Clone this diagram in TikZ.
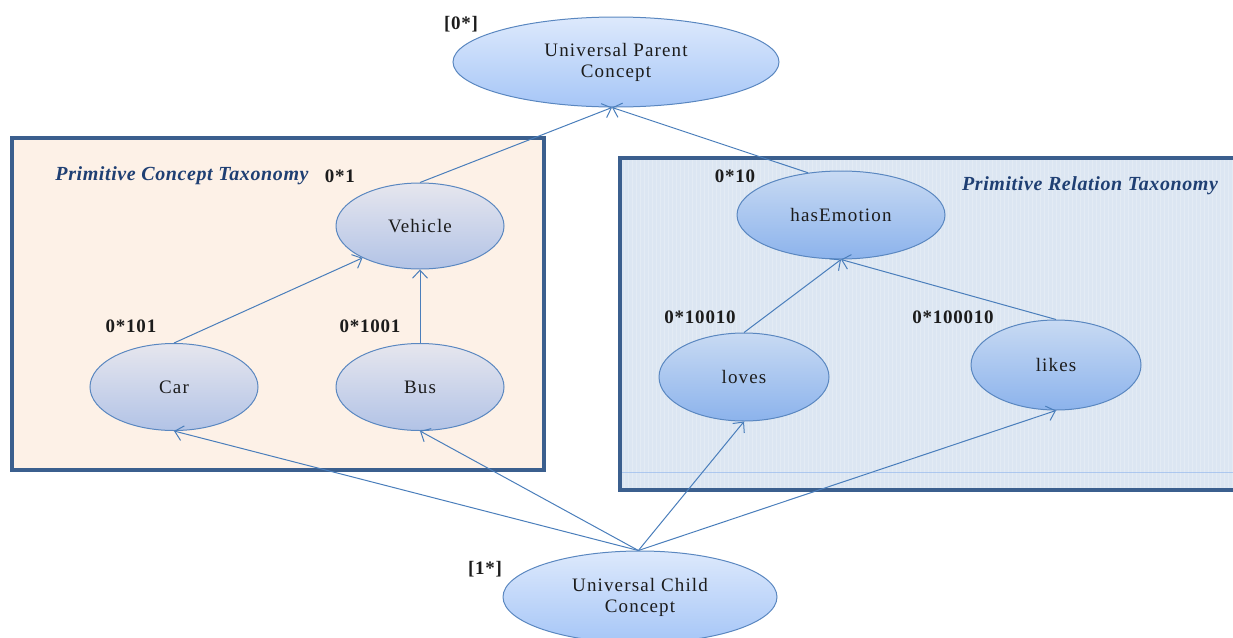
\documentclass[tikz,border=0pt]{standalone}
\usepackage{fontspec}
\setmainfont{Liberation Serif}
\usetikzlibrary{shapes.geometric,arrows.meta}
\definecolor{linkblue}{HTML}{4A7EBB}
\definecolor{rimblue}{HTML}{5A87C0}
\definecolor{frameblue}{HTML}{3B5F8E}
\definecolor{titleblue}{HTML}{1F3F73}
\definecolor{codeink}{HTML}{1C1C1C}
\definecolor{peach}{HTML}{FDF1E7}
\definecolor{paleblue}{HTML}{DCE6F2}
\definecolor{lilactop}{HTML}{E6E6EE}
\definecolor{lilacbot}{HTML}{B2C3E6}
\definecolor{skytop}{HTML}{C8DAF3}
\definecolor{skybot}{HTML}{8CB3EC}
\definecolor{roottop}{HTML}{DDE9FC}
\definecolor{rootbot}{HTML}{A6C6F7}
\begin{document}
\begin{tikzpicture}[x=1pt,y=-1pt,
  concept/.style={ellipse, draw=rimblue, line width=1pt, inner sep=0pt, align=center,
    text=codeink, font=\addfontfeature{LetterSpace=6}\fontsize{19}{21}\selectfont},
  lilac/.style={concept, top color=lilactop, bottom color=lilacbot},
  skyblue/.style={concept, top color=skytop, bottom color=skybot},
  rootblue/.style={concept, top color=roottop, bottom color=rootbot},
  code/.style={font=\bfseries\addfontfeature{LetterSpace=4}\fontsize{19}{21}\selectfont, text=codeink},
  boxtitle/.style={font=\bfseries\itshape\addfontfeature{LetterSpace=3}\fontsize{20}{22}\selectfont, text=titleblue},
  link/.style={draw=linkblue, line width=1pt, -{Straight Barb[length=8pt,width=15pt]}},
  frame/.style={draw=frameblue, line width=4pt}]
\useasboundingbox (0,0) rectangle (1233,637);

% concept taxonomy panel
\fill[peach] (12,138) rectangle (544,470);
\draw[frame] (12,138) rectangle (544,470);

% relation taxonomy panel, with its fine crosshatch
\fill[paleblue] (620,158) rectangle (1250,490);
\begin{scope}
  \clip (620,158) rectangle (1250,490);
  \draw[white, opacity=0.22, line width=0.5pt, step=4] (620,158) grid (1250,490);
\end{scope}
\draw[skybot, opacity=0.6, line width=0.6pt] (620,472) -- (1250,472);
\draw[frame] (620,158) rectangle (1250,490);

% nodes
\node[rootblue, minimum width=326, minimum height=90] (upc) at (616,62) {Universal Parent\\Concept};
\node[code] (upccode) at (461,24) {[0*]};

\node[boxtitle] (pct) at (182,176) {Primitive Concept Taxonomy};
\node[code] (vcode) at (340,176) {0*1};
\node[lilac, minimum width=168, minimum height=86] (veh) at (420,226) {Vehicle};
\node[code] (ccode) at (131,326) {0*101};
\node[code] (bcode) at (370,326) {0*1001};
\node[lilac, minimum width=168, minimum height=87] (car) at (174,387) {Car};
\node[lilac, minimum width=168, minimum height=87] (bus) at (420,387) {Bus};

\node[boxtitle] (prt) at (1090,186) {Primitive Relation Taxonomy};
\node[code] (hcode) at (735,176) {0*10};
\node[skyblue, minimum width=208, minimum height=88] (he) at (841,215) {hasEmotion};
\node[code] (lcode) at (700,317) {0*10010};
\node[code] (kcode) at (953,317) {0*100010};
\node[skyblue, minimum width=170, minimum height=88] (loves) at (744,377) {loves};
\node[skyblue, minimum width=170, minimum height=90] (likes) at (1056,365) {likes};

\node[rootblue, minimum width=274, minimum height=92] (ucc) at (640,597) {Universal Child\\Concept};
\node[code] (ucccode) at (485,569) {[1*]};

% subsumption links
\coordinate (top) at (upc.265);
\coordinate (bottom) at (ucc.92);
\draw[link] (veh.north) -- (top);
\draw[link] (he.128) -- (top);
\draw[link] (car.north) -- (veh.209);
\draw[link] (bus.north) -- (veh.south);
\draw[link] (loves.north) -- (he.south);
\draw[link] (likes.north) -- (he.south);
\draw[link] (bottom) -- (car.south);
\draw[link] (bottom) -- (bus.south);
\draw[link] (bottom) -- (loves.south);
\draw[link] (bottom) -- (likes.south);
\end{tikzpicture}
\end{document}
